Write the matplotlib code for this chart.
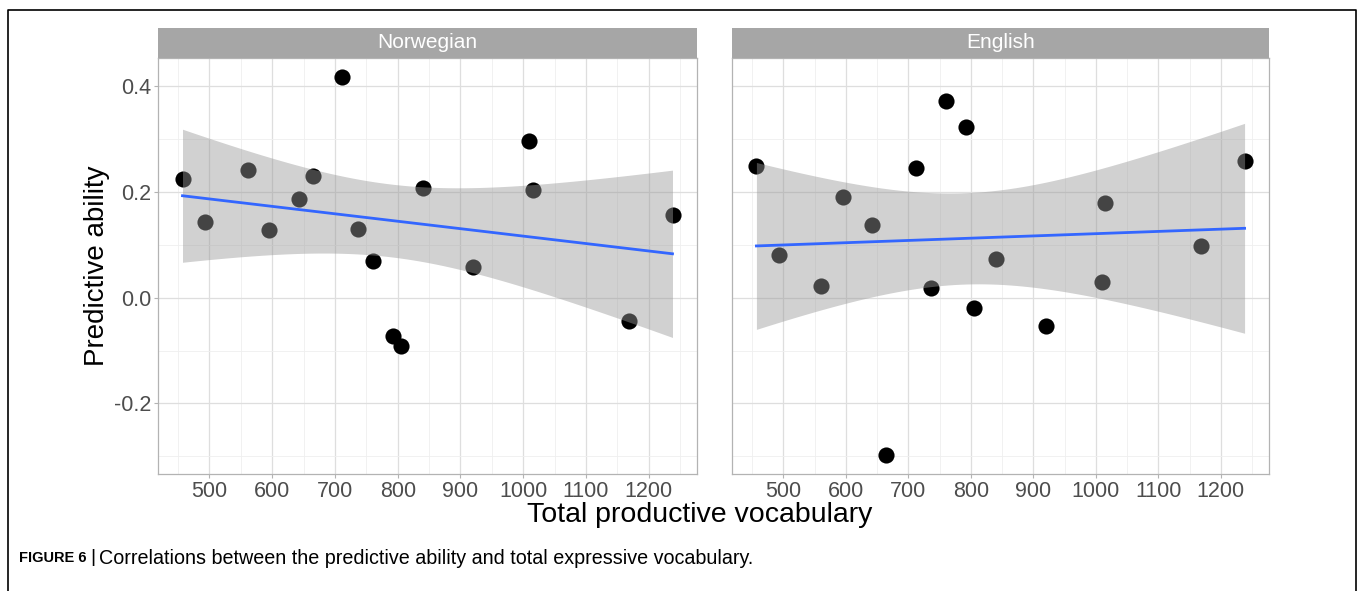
import numpy as np
import matplotlib.pyplot as plt
from matplotlib.lines import Line2D
from matplotlib.patches import Rectangle

plt.rcParams['font.family'] = ['Liberation Sans', 'DejaVu Sans']

# same children in both panels
vocab = [457, 493, 561, 595, 642, 665, 712, 737, 761, 792, 805, 840, 920,
         1010, 1015, 1169, 1238]
norwegian = [0.225, 0.143, 0.242, 0.128, 0.186, 0.231, 0.418, 0.130, 0.070,
             -0.072, -0.091, 0.208, 0.058, 0.296, 0.203, -0.045, 0.157]
english = [0.250, 0.081, 0.023, 0.191, 0.138, -0.298, 0.245, 0.018, 0.372,
           0.323, -0.019, 0.074, -0.054, 0.029, 0.179, 0.097, 0.258]
panels = [("Norwegian", norwegian), ("English", english)]
xticks = [500, 600, 700, 800, 900, 1000, 1100, 1200]
yticks = [-0.2, 0.0, 0.2, 0.4]
T_975 = 2.1314  # t quantile, df = 15

W, H = 1360, 591
fig = plt.figure(figsize=(W / 100, H / 100), dpi=100)

x = np.array(vocab, dtype=float)
ymin = min(min(norwegian), min(english))
ymax = max(max(norwegian), max(english))
xpad = 0.05 * (x.max() - x.min())
ypad = 0.05 * (ymax - ymin)

lefts = [158, 732]
rights = [697, 1269]
top, bottom = 58, 474

for i, (name, vals) in enumerate(panels):
    y = np.array(vals)
    ax = fig.add_axes([lefts[i] / W, 1 - bottom / H,
                       (rights[i] - lefts[i]) / W, (bottom - top) / H])
    ax.scatter(x, y, s=135, color='black', zorder=3, linewidths=0)

    # linear fit with 95% band (like geom_smooth(method = "lm"))
    b, a = np.polyfit(x, y, 1)
    n = len(x)
    resid = y - (a + b * x)
    s = np.sqrt(np.sum(resid ** 2) / (n - 2))
    xs = np.linspace(x.min(), x.max(), 80)
    fit = a + b * xs
    se = s * np.sqrt(1.0 / n + (xs - x.mean()) ** 2 / np.sum((x - x.mean()) ** 2))
    ax.fill_between(xs, fit - T_975 * se, fit + T_975 * se, color='#999999',
                    alpha=0.45, linewidth=0, zorder=4)
    ax.plot(xs, fit, color='#3366FF', linewidth=2, zorder=5)

    ax.set_xlim(x.min() - xpad, x.max() + xpad)
    ax.set_ylim(ymin - ypad, ymax + ypad)
    ax.set_xticks(xticks)
    ax.set_xticks([450 + 100 * k for k in range(9)], minor=True)
    ax.set_yticks(yticks)
    ax.set_yticks([-0.3, -0.1, 0.1, 0.3], minor=True)
    ax.grid(True, which='major', color='#DEDEDE', linewidth=0.9, zorder=0)
    ax.grid(True, which='minor', color='#EFEFEF', linewidth=0.6, zorder=0)
    ax.set_axisbelow(True)
    ax.tick_params(which='major', length=3, color='#B3B3B3', labelsize=15.5,
                   labelcolor='#4D4D4D', pad=2)
    ax.tick_params(which='minor', length=0)
    if i == 0:
        ax.set_yticklabels(['-0.2', '0.0', '0.2', '0.4'])
    else:
        ax.set_yticklabels([])
        ax.tick_params(axis='y', length=0)
    for sp in ax.spines.values():
        sp.set_color('#B3B3B3')
        sp.set_linewidth(0.9)

    # facet strip
    fig.patches.append(Rectangle((lefts[i] / W, 1 - top / H),
                                 (rights[i] - lefts[i]) / W, 30 / H,
                                 transform=fig.transFigure, facecolor='#A6A6A6',
                                 edgecolor='none'))
    fig.text((lefts[i] + rights[i]) / 2 / W, 1 - 43 / H, name, color='white',
             fontsize=15, ha='center', va='center')

fig.text(97 / W, 1 - 266 / H, "Predictive ability", rotation=90, fontsize=20,
         ha='center', va='center')
fig.text(700 / W, 1 - 515 / H, "Total productive vocabulary",
         fontsize=20.5, ha='center', va='center')

# caption and frame
fig.text(19 / W, 1 - 558 / H, "FIGURE 6", fontsize=10.5, fontweight='bold',
         ha='left', va='center')
fig.text(93 / W, 1 - 557 / H, "|", fontsize=14, ha='center', va='center')
fig.text(99 / W, 1 - 558 / H,
         "Correlations between the predictive ability and total expressive vocabulary.",
         fontsize=14.2, ha='left', va='center')
fig.lines.append(Line2D([8 / W, 8 / W, 1356 / W, 1356 / W], [0, 1 - 10 / H, 1 - 10 / H, 0],
                        transform=fig.transFigure, color='black', linewidth=1.2))

plt.savefig("out.png", dpi=100)
